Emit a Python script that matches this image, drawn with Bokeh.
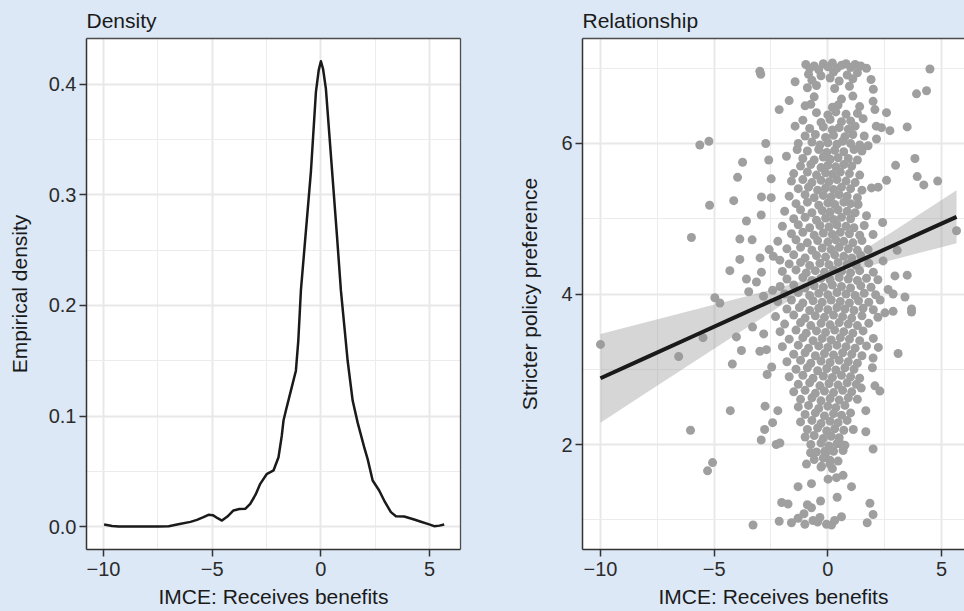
from bokeh.plotting import figure
from bokeh.layouts import row
from bokeh.models import FixedTicker, Range1d, LinearAxis
from bokeh.embed import file_html
from bokeh.resources import INLINE

# ---------------- data ----------------
density_x = [-9.97, -9.6, -9.3, -8.5, -7.5, -7.0, -6.5, -6.0, -5.7, -5.4, -5.17, -4.97,
             -4.75, -4.55, -4.3, -4.02, -3.75, -3.48, -3.25, -3.0, -2.79, -2.48, -2.3,
             -2.18, -1.95, -1.8, -1.72, -1.61, -1.38, -1.15, -1.04, -0.92, -0.7, -0.46,
             -0.23, -0.1, 0.0, 0.1, 0.23, 0.54, 0.75, 0.92, 1.07, 1.23, 1.46, 1.69, 1.99,
             2.15, 2.38, 2.68, 2.95, 3.22, 3.45, 3.83, 4.29, 4.6, 4.91, 5.21, 5.45, 5.67]
density_y = [0.0018, 0.0005, 0.0, 0.0, 0.0, 0.0003, 0.0022, 0.0042, 0.006, 0.0085, 0.0106,
             0.0103, 0.0075, 0.0054, 0.009, 0.0145, 0.0158, 0.016, 0.0205, 0.029, 0.0386,
             0.0477, 0.0495, 0.0507, 0.0627, 0.082, 0.0959, 0.105, 0.123, 0.141, 0.168,
             0.2136, 0.265, 0.321, 0.393, 0.413, 0.421, 0.414, 0.396, 0.315, 0.26, 0.2136,
             0.183, 0.150, 0.114, 0.094, 0.0718, 0.061, 0.0416, 0.0326, 0.022, 0.013,
             0.0093, 0.009, 0.0063, 0.0043, 0.0024, 0.0003, 0.0008, 0.0018]

density_xticks = [-10, -5, 0, 5]
density_xtick_labels = ["\u221210", "\u22125", "0", "5"]
density_yticks = [0.0, 0.1, 0.2, 0.3, 0.4]
density_ytick_labels = ["0.0", "0.1", "0.2", "0.3", "0.4"]

# scattered outlying respondents (x, y)
scatter_outer = [
    (-10.0, 3.33), (-6.56, 3.17), (-6.04, 2.19), (-6.0, 4.75), (-5.63, 5.98), (-5.23, 6.03),
    (-5.49, 3.42), (-5.2, 5.18), (-5.07, 1.76), (-5.29, 1.65), (-4.97, 3.95), (-4.75, 3.88),
    (-4.31, 4.31), (-4.29, 2.45), (-4.20, 3.07), (-4.14, 5.24), (-4.02, 3.43), (-3.97, 5.55),
    (-3.87, 4.73), (-3.87, 4.46), (-3.80, 3.25), (-3.75, 5.75), (-3.58, 4.97), (-3.58, 4.2),
    (-3.48, 4.03), (-3.33, 4.72), (-3.31, 3.56), (-3.29, 0.93), (-3.14, 4.16), (-2.99, 6.96),
    (-2.95, 6.92), (-2.98, 4.48), (-2.93, 5.05), (-2.92, 5.29), (-2.92, 4.29), (-2.99, 3.24),
    (-2.93, 2.06), (-2.83, 3.97), (-2.82, 3.47), (-2.78, 2.2), (-2.76, 2.51), (-2.73, 6.0),
    (-2.7, 3.26), (-2.67, 2.93), (-2.6, 5.78), (-2.58, 4.59), (-2.49, 5.53), (-2.49, 5.28),
    (-2.47, 3.03), (-2.43, 4.05), (-2.43, 2.29), (-2.27, 2.0), (-2.2, 2.45), (-2.14, 6.45),
    (-2.14, 0.98), (-2.11, 4.45), (-2.11, 2.02), (-2.03, 1.23), (-1.82, 5.83), (-1.75, 1.21),
    (-1.70, 6.57), (-1.6, 0.96), (-1.44, 6.82), (-1.44, 6.23), (-1.35, 5.92), (-1.31, 1.02),
    (-1.31, 1.44), (-1.01, 0.94), (-0.94, 1.74), (-0.76, 1.89), (-0.72, 1.48), (-0.72, 1.16),
    (-0.65, 0.99), (-0.35, 1.03), (-0.32, 1.25), (-0.28, 1.71), (-0.13, 1.91), (-0.06, 0.94),
    (0.01, 1.54), (0.09, 1.74), (0.16, 0.93), (0.38, 1.56), (0.41, 1.30), (0.45, 1.78),
    (0.6, 1.04), (0.6, 2.0), (0.67, 1.59), (0.67, 1.92), (1.04, 1.44), (1.12, 2.2),
    (1.47, 2.75), (1.67, 2.17), (1.67, 2.45), (1.73, 0.96), (1.85, 1.22), (1.96, 3.02),
    (1.99, 1.07), (1.99, 1.94), (1.99, 3.15), (2.07, 2.78), (2.22, 3.29), (2.29, 2.71),
    (3.09, 3.21), (2.51, 3.75), (2.65, 4.06), (2.87, 3.77), (3.39, 3.96), (3.68, 3.76),
    (2.87, 4.0), (3.68, 3.80), (2.95, 4.24), (3.49, 4.25), (3.05, 4.58), (2.41, 4.95),
    (2.58, 5.51), (2.98, 5.71), (3.83, 5.80), (3.93, 5.56), (4.22, 5.45), (4.83, 5.50),
    (3.49, 6.22), (3.9, 6.66), (4.34, 6.70), (4.49, 6.99), (5.66, 4.84), (1.99, 6.56),
    (2.07, 6.45), (2.58, 6.41), (2.13, 6.23), (2.36, 6.21), (2.73, 6.17), (2.14, 6.06),
    (1.77, 5.97), (1.92, 5.41), (2.21, 5.42), (1.70, 5.04), (1.33, 5.19), (1.99, 4.79),
    (1.77, 4.59), (2.43, 4.44), (-1.05, 1.08), (-0.45, 0.97), (0.3, 0.99), (-0.9, 1.2),
]

# the dense central column of respondents (x, y)
scatter_core = [
    (-0.97, 7.05), (-0.8, 7.0), (-0.6, 7.03), (-0.4, 6.98), (-0.2, 7.06), (0.0, 7.02), (0.2, 7.07),
    (0.4, 7.0), (0.6, 7.04), (0.8, 7.06), (1.0, 7.01), (1.2, 7.05), (1.45, 7.03), (1.7, 7.0),
    (-0.85, 6.92), (-0.3, 6.9), (0.25, 6.95), (0.85, 6.91), (1.3, 6.94),
    (-0.7, 6.84), (0.1, 6.87), (0.5, 6.83), (1.1, 6.86), (1.9, 6.85),
    (-0.9, 6.74), (-0.5, 6.77), (0.3, 6.73), (0.95, 6.76), (2.0, 6.72),
    (-0.6, 6.62), (0.6, 6.59), (1.1, 6.63),
    (-1.0, 6.5), (-0.75, 6.52), (0.2, 6.48), (0.45, 6.51), (1.4, 6.49),
    (-0.5, 6.41), (0.0, 6.38), (0.35, 6.42), (0.8, 6.39), (1.3, 6.4),
    (-1.1, 6.31), (-0.3, 6.28), (0.1, 6.32), (0.6, 6.29), (1.0, 6.3), (1.55, 6.33),
    (-0.8, 6.2), (-0.2, 6.22), (0.2, 6.18), (0.5, 6.21), (0.9, 6.19), (1.2, 6.23),
    (-1.0, 6.1), (-0.55, 6.12), (-0.1, 6.08), (0.25, 6.11), (0.75, 6.09), (1.1, 6.12), (1.6, 6.1),
    (-1.3, 6.0), (-0.7, 6.02), (-0.35, 5.98), (0.0, 6.01), (0.4, 5.99), (0.65, 6.03), (1.0, 6.0), (1.4, 5.98),
    (-0.9, 5.9), (-0.4, 5.92), (-0.05, 5.88), (0.3, 5.91), (0.7, 5.89), (1.15, 5.92), (1.5, 5.9),
    (-1.1, 5.8), (-0.6, 5.78), (-0.2, 5.82), (0.1, 5.79), (0.45, 5.81), (0.9, 5.8), (1.3, 5.78),
    (-1.2, 5.7), (-0.75, 5.72), (-0.3, 5.68), (0.0, 5.71), (0.35, 5.69), (0.7, 5.72), (1.05, 5.7),
    (-1.5, 5.6), (-0.9, 5.62), (-0.5, 5.58), (-0.1, 5.61), (0.2, 5.59), (0.55, 5.62), (0.95, 5.6), (1.4, 5.58),
    (-1.6, 5.5), (-1.1, 5.52), (-0.7, 5.48), (-0.3, 5.51), (0.05, 5.49), (0.4, 5.52), (0.8, 5.5), (1.2, 5.48),
    (-1.3, 5.4), (-0.85, 5.42), (-0.45, 5.38), (-0.1, 5.41), (0.25, 5.39), (0.6, 5.42), (1.0, 5.4), (1.5, 5.38),
    (-1.7, 5.3), (-1.0, 5.32), (-0.6, 5.28), (-0.2, 5.31), (0.15, 5.29), (0.5, 5.32), (0.85, 5.3), (1.3, 5.28),
    (-1.4, 5.2), (-0.9, 5.22), (-0.4, 5.18), (0.0, 5.21), (0.3, 5.19), (0.7, 5.22), (1.0, 5.2),
    (-1.9, 5.1), (-1.2, 5.12), (-0.7, 5.08), (-0.25, 5.11), (0.1, 5.09), (0.45, 5.12), (0.85, 5.1), (1.2, 5.08),
    (-1.5, 5.0), (-1.0, 5.02), (-0.5, 4.98), (-0.1, 5.01), (0.25, 4.99), (0.6, 5.02), (1.0, 5.0),
    (-2.0, 4.9), (-1.3, 4.92), (-0.8, 4.88), (-0.35, 4.91), (0.05, 4.89), (0.4, 4.92), (0.8, 4.9), (1.15, 4.88), (1.6, 4.91),
    (-1.6, 4.8), (-1.1, 4.82), (-0.6, 4.78), (-0.2, 4.81), (0.2, 4.79), (0.55, 4.82), (0.95, 4.8), (1.4, 4.78),
    (-2.2, 4.7), (-1.4, 4.72), (-0.9, 4.68), (-0.45, 4.71), (0.0, 4.69), (0.35, 4.72), (0.7, 4.7), (1.1, 4.68), (1.5, 4.71),
    (-1.8, 4.6), (-1.2, 4.62), (-0.7, 4.58), (-0.25, 4.61), (0.15, 4.59), (0.5, 4.62), (0.9, 4.6), (1.3, 4.58),
    (-2.4, 4.5), (-1.5, 4.52), (-1.0, 4.48), (-0.5, 4.51), (-0.1, 4.49), (0.3, 4.52), (0.7, 4.5), (1.05, 4.48), (1.45, 4.51),
    (-1.7, 4.4), (-1.2, 4.42), (-0.8, 4.38), (-0.35, 4.41), (0.05, 4.39), (0.45, 4.42), (0.85, 4.4), (1.25, 4.38), (1.8, 4.41),
    (-2.0, 4.3), (-1.4, 4.32), (-0.95, 4.28), (-0.55, 4.31), (-0.15, 4.29), (0.25, 4.32), (0.6, 4.3), (1.0, 4.28), (1.4, 4.31), (2.0, 4.29),
    (-1.8, 4.2), (-1.1, 4.22), (-0.7, 4.18), (-0.3, 4.21), (0.1, 4.19), (0.5, 4.22), (0.9, 4.2), (1.3, 4.18), (1.7, 4.21), (2.2, 4.19),
    (-2.1, 4.1), (-1.5, 4.12), (-1.0, 4.08), (-0.6, 4.11), (-0.2, 4.09), (0.2, 4.12), (0.6, 4.1), (1.0, 4.08), (1.45, 4.11), (1.9, 4.09),
    (-1.9, 4.0), (-1.3, 4.02), (-0.8, 3.98), (-0.4, 4.01), (0.0, 3.99), (0.4, 4.02), (0.8, 4.0), (1.2, 3.98), (1.6, 4.01), (2.1, 3.99),
    (-2.2, 3.9), (-1.6, 3.92), (-1.1, 3.88), (-0.65, 3.91), (-0.25, 3.89), (0.15, 3.92), (0.55, 3.9), (0.95, 3.88), (1.35, 3.91), (1.8, 3.89), (2.3, 3.92),
    (-1.8, 3.8), (-1.25, 3.82), (-0.8, 3.78), (-0.4, 3.81), (0.0, 3.79), (0.4, 3.82), (0.75, 3.8), (1.15, 3.78), (1.55, 3.81), (2.0, 3.79),
    (-2.3, 3.7), (-1.5, 3.72), (-1.0, 3.68), (-0.55, 3.71), (-0.15, 3.69), (0.25, 3.72), (0.65, 3.7), (1.05, 3.68), (1.5, 3.71), (2.2, 3.69),
    (-1.9, 3.6), (-1.2, 3.62), (-0.75, 3.58), (-0.3, 3.61), (0.1, 3.59), (0.5, 3.62), (0.9, 3.6), (1.3, 3.58), (1.8, 3.61),
    (-2.1, 3.5), (-1.4, 3.52), (-0.95, 3.48), (-0.5, 3.51), (-0.1, 3.49), (0.3, 3.52), (0.7, 3.5), (1.1, 3.48), (1.55, 3.51),
    (-1.7, 3.4), (-1.1, 3.42), (-0.65, 3.38), (-0.25, 3.41), (0.15, 3.39), (0.55, 3.42), (0.95, 3.4), (1.4, 3.38), (2.0, 3.41),
    (-2.0, 3.3), (-1.3, 3.32), (-0.85, 3.28), (-0.4, 3.31), (0.0, 3.29), (0.4, 3.32), (0.8, 3.3), (1.2, 3.28), (1.7, 3.31),
    (-1.5, 3.2), (-1.0, 3.22), (-0.55, 3.18), (-0.15, 3.21), (0.25, 3.19), (0.65, 3.22), (1.05, 3.2), (1.5, 3.18),
    (-1.8, 3.1), (-1.2, 3.12), (-0.75, 3.08), (-0.3, 3.11), (0.1, 3.09), (0.5, 3.12), (0.9, 3.1), (1.3, 3.08),
    (-1.4, 3.0), (-0.9, 3.02), (-0.45, 2.98), (-0.05, 3.01), (0.35, 2.99), (0.75, 3.02), (1.15, 3.0),
    (-1.7, 2.9), (-1.1, 2.92), (-0.65, 2.88), (-0.2, 2.91), (0.2, 2.89), (0.6, 2.92), (1.0, 2.9), (1.4, 2.88),
    (-1.3, 2.8), (-0.8, 2.82), (-0.35, 2.78), (0.05, 2.81), (0.45, 2.79), (0.85, 2.82), (1.25, 2.8),
    (-1.5, 2.7), (-1.0, 2.72), (-0.55, 2.68), (-0.15, 2.71), (0.25, 2.69), (0.65, 2.72), (1.05, 2.7),
    (-1.2, 2.6), (-0.7, 2.62), (-0.3, 2.58), (0.1, 2.61), (0.5, 2.59), (0.9, 2.62), (1.3, 2.6),
    (-1.3, 2.5), (-0.85, 2.52), (-0.4, 2.48), (0.0, 2.51), (0.35, 2.49), (0.75, 2.52),
    (-1.0, 2.4), (-0.55, 2.42), (-0.15, 2.38), (0.25, 2.41), (0.6, 2.39), (1.0, 2.42),
    (-1.2, 2.3), (-0.7, 2.32), (-0.3, 2.28), (0.1, 2.31), (0.45, 2.29), (0.85, 2.32),
    (-0.9, 2.2), (-0.45, 2.22), (-0.05, 2.18), (0.3, 2.21), (0.7, 2.19),
    (-1.0, 2.1), (-0.6, 2.12), (-0.2, 2.08), (0.15, 2.11), (0.5, 2.09),
    (-0.75, 2.0), (-0.3, 2.02), (0.05, 1.98), (0.4, 2.01), (0.75, 1.99),
    (-0.5, 1.9), (-0.1, 1.88), (0.25, 1.91),
    (-0.6, 1.8), (-0.2, 1.82), (0.1, 1.79),
    (-0.3, 1.7), (0.2, 1.68),
]

fit_x = [-10, -8, -6, -4, -2, -1, 0, 1, 2, 3, 4, 5, 5.66]
fit_y = [2.880, 3.154, 3.428, 3.702, 3.976, 4.113, 4.250, 4.387, 4.524, 4.661, 4.798, 4.935, 5.025]
fit_lower = [2.29, 2.683, 3.076, 3.467, 3.856, 4.043, 4.199, 4.301, 4.385, 4.465, 4.544, 4.622, 4.673]
fit_upper = [3.47, 3.625, 3.780, 3.936, 4.096, 4.183, 4.301, 4.473, 4.663, 4.857, 5.052, 5.248, 5.377]

rel_xticks = [-10, -5, 0, 5]
rel_xtick_labels = ["\u221210", "\u22125", "0", "5"]
rel_yticks = [2, 4, 6]
rel_ytick_labels = ["2", "4", "6"]

# ---------------- styling ----------------
BG = "#dce8f6"
FONT = "Liberation Sans"
BORDER = "#4d4d4d"


def border_axis():
    return LinearAxis(ticker=FixedTicker(ticks=[]), axis_line_color=BORDER,
                      axis_line_width=1.3, major_tick_line_color=None,
                      minor_tick_line_color=None, major_tick_out=0, major_tick_in=0,
                      major_label_standoff=0, major_label_text_font_size="0px",
                      axis_label_standoff=0)


def style(p, xticks, xlabels, xminor, yticks, ylabels, yminor, ylabel_standoff):
    p.background_fill_color = "white"
    p.border_fill_color = BG
    p.outline_line_color = None
    p.title.text_font = FONT
    p.title.text_font_size = "21px"
    p.title.text_font_style = "normal"
    p.title.text_color = "#1a1a1a"
    p.title.align = "left"
    p.title.standoff = 13
    p.xaxis.ticker = FixedTicker(ticks=xticks, minor_ticks=xminor)
    p.yaxis.ticker = FixedTicker(ticks=yticks, minor_ticks=yminor)
    p.xaxis.major_label_overrides = dict(zip(xticks, xlabels))
    p.yaxis.major_label_overrides = dict(zip(yticks, ylabels))
    for ax in (p.xaxis, p.yaxis):
        ax.axis_line_color = "#333333"
        ax.axis_line_width = 1.5
        ax.major_tick_line_color = "#333333"
        ax.major_tick_line_width = 1.5
        ax.major_tick_in = 0
        ax.major_tick_out = 7
        ax.minor_tick_line_color = None
        ax.major_label_text_font = FONT
        ax.major_label_text_font_size = "20px"
        ax.major_label_text_color = "#2b2b2b"
        ax.axis_label_text_font = FONT
        ax.axis_label_text_font_size = "21px"
        ax.axis_label_text_font_style = "normal"
        ax.axis_label_text_color = "#1a1a1a"
        ax.major_label_standoff = 3
    p.xaxis.major_label_standoff = 5
    p.xaxis.axis_label_standoff = 6
    p.yaxis.axis_label_standoff = ylabel_standoff
    for g in (p.xgrid, p.ygrid):
        g.grid_line_color = "#e8e8e8"
        g.grid_line_width = 2
        g.minor_grid_line_color = "#ececec"
        g.minor_grid_line_width = 1


# left: density
left = figure(width=488, height=611, output_backend="svg", toolbar_location=None,
              title="Density",
              x_range=Range1d(-10.78, 6.42), y_range=Range1d(-0.0208, 0.4416),
              min_border_left=84, min_border_right=30, min_border_top=38, min_border_bottom=62)
left.xaxis.axis_label = "IMCE: Receives benefits"
left.yaxis.axis_label = "Empirical density"
style(left, density_xticks, density_xtick_labels, [-7.5, -2.5, 2.5],
      density_yticks, density_ytick_labels, [0.05, 0.15, 0.25, 0.35], 15)
left.add_layout(border_axis(), "above")
left.add_layout(border_axis(), "right")
left.line(density_x, density_y, line_color="#1a1a1a", line_width=2.5, line_join="round")

# right: relationship
right = figure(width=474, height=611, output_backend="svg", toolbar_location=None,
               title="Relationship",
               x_range=Range1d(-10.79, 6.01), y_range=Range1d(0.605, 7.395),
               min_border_left=92, min_border_right=0, min_border_top=38, min_border_bottom=62)
right.xaxis.axis_label = "IMCE: Receives benefits"
right.yaxis.axis_label = "Stricter policy preference"
style(right, rel_xticks, rel_xtick_labels, [-7.5, -2.5, 2.5],
      rel_yticks, rel_ytick_labels, [1, 3, 5, 7], 17)
right.add_layout(border_axis(), "above")

pts = scatter_outer + scatter_core
right.scatter([p[0] for p in pts], [p[1] for p in pts], size=9,
              fill_color="#9f9f9f", line_color=None)
right.varea(x=fit_x, y1=fit_lower, y2=fit_upper, fill_color="#999999", fill_alpha=0.4)
right.line(fit_x, fit_y, line_color="#1a1a1a", line_width=4)

layout = row(left, right)
html = file_html(layout, INLINE)
css = ("<style>html, body { background-color: %s !important; } "
       "body { margin: 0 0 0 2px !important; padding: 0 !important; "
       "overflow: hidden; }</style>" % BG)
i = html.rfind("</head>")
if i >= 0:
    html = html[:i] + css + html[i:]
open("out.html", "w").write(html)
